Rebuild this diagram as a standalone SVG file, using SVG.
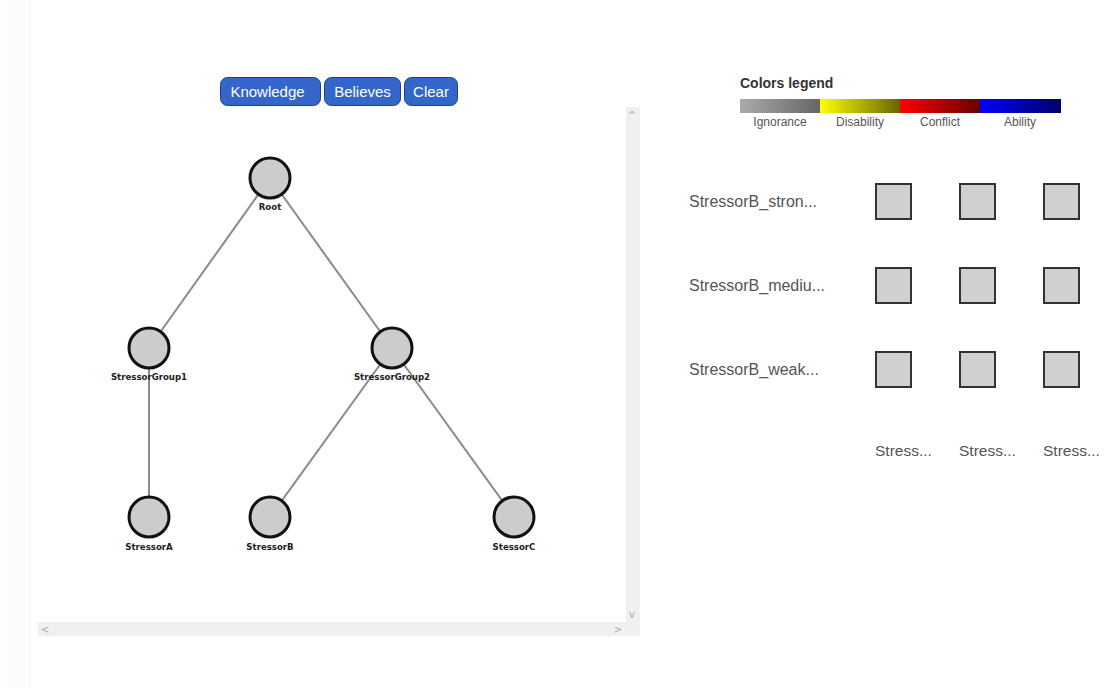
<svg xmlns="http://www.w3.org/2000/svg" width="1104" height="688" viewBox="0 0 1104 688">
<defs>
<style>
.btn{fill:#3465c9;stroke:#1f3f8a;stroke-width:1}
.btnt{font-family:"Liberation Sans",Arial,sans-serif;font-size:15px;fill:#ffffff;text-anchor:middle}
.node{fill:#cccccc;stroke:#111111;stroke-width:3}
.nl{font-family:"DejaVu Sans",sans-serif;font-size:8.6px;fill:#222222;text-anchor:middle;font-weight:bold}
.edge{stroke:#8a8a8a;stroke-width:2;fill:none}
.sb{fill:#f0f0f0}
.arr{font-family:"DejaVu Sans",sans-serif;font-size:10px;fill:#aaaaaa;text-anchor:middle}
.leg{font-family:"Liberation Sans",Arial,sans-serif;font-size:12px;fill:#555555;text-anchor:middle}
.row{font-family:"Liberation Sans",Arial,sans-serif;font-size:16px;fill:#555555}
.col{font-family:"Liberation Sans",Arial,sans-serif;font-size:15.5px;fill:#555555}
.cell{fill:#d0d0d0;stroke:#333333;stroke-width:2}
</style>
<linearGradient id="gI" x1="0" x2="1" y1="0" y2="0"><stop offset="0" stop-color="#aaaaaa"/><stop offset="1" stop-color="#666666"/></linearGradient>
<linearGradient id="gD" x1="0" x2="1" y1="0" y2="0"><stop offset="0" stop-color="#ffff00"/><stop offset="1" stop-color="#666600"/></linearGradient>
<linearGradient id="gC" x1="0" x2="1" y1="0" y2="0"><stop offset="0" stop-color="#ff0000"/><stop offset="1" stop-color="#660000"/></linearGradient>
<linearGradient id="gA" x1="0" x2="1" y1="0" y2="0"><stop offset="0" stop-color="#0000ff"/><stop offset="1" stop-color="#000066"/></linearGradient>
</defs>
<rect x="0" y="0" width="1104" height="688" fill="#ffffff"/>
<rect x="7" y="0" width="24" height="688" fill="#fcfcfc"/>

<g id="buttons">
<rect class="btn" x="220.5" y="77.5" width="100" height="28" rx="7"/>
<text class="btnt" x="267.5" y="97">Knowledge</text>
<rect class="btn" x="324.5" y="77.5" width="76" height="28" rx="7"/>
<text class="btnt" x="362.5" y="97">Believes</text>
<rect class="btn" x="404.5" y="77.5" width="53" height="28" rx="7"/>
<text class="btnt" x="431" y="97">Clear</text>
</g>

<g id="scrollbars">
<rect class="sb" x="38" y="622" width="602" height="14"/>
<rect class="sb" x="626" y="107" width="14" height="529"/>
<text class="arr" x="632" y="119">^</text>
<text class="arr" x="632" y="618">v</text>
<text class="arr" x="45" y="633">&lt;</text>
<text class="arr" x="618" y="633">&gt;</text>
</g>

<g id="connectors">
<line class="edge" x1="270" y1="178" x2="149" y2="348"/>
<line class="edge" x1="270" y1="178" x2="392" y2="348"/>
<line class="edge" x1="149" y1="348" x2="149" y2="517"/>
<line class="edge" x1="392" y1="348" x2="270" y2="517"/>
<line class="edge" x1="392" y1="348" x2="514" y2="517"/>
</g>

<g id="node-root"><circle class="node" cx="270" cy="178" r="20"/><text class="nl" x="270" y="210">Root</text></g>
<g id="node-sg1"><circle class="node" cx="149" cy="348" r="20"/><text class="nl" x="149" y="380">StressorGroup1</text></g>
<g id="node-sg2"><circle class="node" cx="392" cy="348" r="20"/><text class="nl" x="392" y="380">StressorGroup2</text></g>
<g id="node-a"><circle class="node" cx="149" cy="517" r="20"/><text class="nl" x="149" y="550">StressorA</text></g>
<g id="node-b"><circle class="node" cx="270" cy="517" r="20"/><text class="nl" x="270" y="550">StressorB</text></g>
<g id="node-c"><circle class="node" cx="514" cy="517" r="20"/><text class="nl" x="514" y="550">StessorC</text></g>

<g id="legend">
<text x="740" y="88" font-family="Liberation Sans, Arial, sans-serif" font-size="14" font-weight="bold" fill="#333333">Colors legend</text>
<rect x="740" y="99" width="80" height="14" fill="url(#gI)"/>
<rect x="820" y="99" width="80" height="14" fill="url(#gD)"/>
<rect x="900" y="99" width="80" height="14" fill="url(#gC)"/>
<rect x="980" y="99" width="81" height="14" fill="url(#gA)"/>
<text class="leg" x="780" y="126">Ignorance</text>
<text class="leg" x="860" y="126">Disability</text>
<text class="leg" x="940" y="126">Conflict</text>
<text class="leg" x="1020" y="126">Ability</text>
</g>

<g id="matrix">
<text class="row" x="689" y="207">StressorB_stron...</text>
<text class="row" x="689" y="291">StressorB_mediu...</text>
<text class="row" x="689" y="375">StressorB_weak...</text>
<rect class="cell" x="876" y="184" width="35" height="35"/>
<rect class="cell" x="960" y="184" width="35" height="35"/>
<rect class="cell" x="1044" y="184" width="35" height="35"/>
<rect class="cell" x="876" y="268" width="35" height="35"/>
<rect class="cell" x="960" y="268" width="35" height="35"/>
<rect class="cell" x="1044" y="268" width="35" height="35"/>
<rect class="cell" x="876" y="352" width="35" height="35"/>
<rect class="cell" x="960" y="352" width="35" height="35"/>
<rect class="cell" x="1044" y="352" width="35" height="35"/>
<text class="col" x="875" y="456">Stress...</text>
<text class="col" x="959" y="456">Stress...</text>
<text class="col" x="1043" y="456">Stress...</text>
</g>
</svg>
